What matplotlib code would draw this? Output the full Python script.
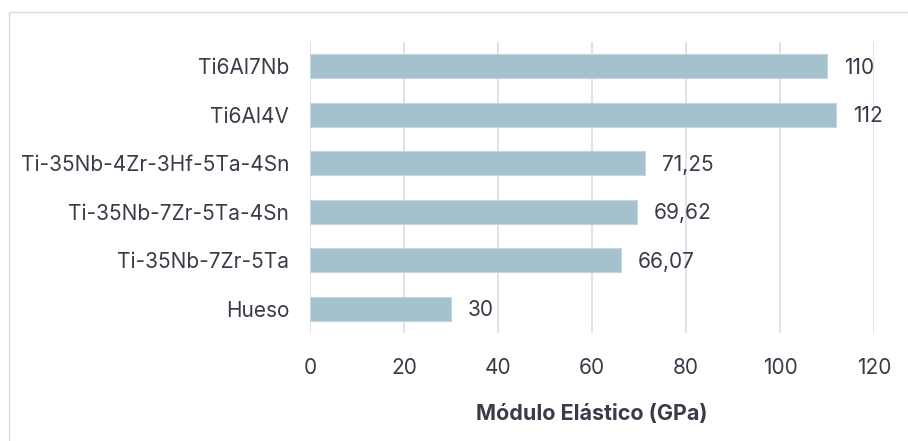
import matplotlib.pyplot as plt
from matplotlib.patches import Rectangle

# elastic modulus per alloy (GPa), top to bottom as drawn
alloys = ["Ti6Al7Nb", "Ti6Al4V", "Ti-35Nb-4Zr-3Hf-5Ta-4Sn",
          "Ti-35Nb-7Zr-5Ta-4Sn", "Ti-35Nb-7Zr-5Ta", "Hueso"]
modulus = [110, 112, 71.25, 69.62, 66.07, 30]
value_labels = ["110", "112", "71,25", "69,62", "66,07", "30"]
x_ticks = [0, 20, 40, 60, 80, 100, 120]

plt.rcParams["font.family"] = ["Inter", "DejaVu Sans"]
text_color = "#3a3a48"
bar_color = "#a6c1ce"
grid_color = "#dcdce5"
fs = 15

fig = plt.figure(figsize=(9.08, 4.41), dpi=100)
ax = fig.add_axes([310 / 908, 108 / 441, 564 / 908, 291 / 441])

# light frame around the chart area
fig.patches.append(Rectangle((9 / 908, -0.05), 1.0, 0.05 + 429 / 441,
                             transform=fig.transFigure, fill=False,
                             edgecolor="#d9d9d9", linewidth=1.0))

ypos = list(range(len(alloys)))
ax.barh(ypos, modulus, height=0.5, color=bar_color,
        edgecolor="#c3d5de", linewidth=0.8, zorder=2)

for y, v, lab in zip(ypos, modulus, value_labels):
    ax.text(v + 3.6, y + 0.03, lab, va="center", ha="left",
            fontsize=fs, color=text_color)

ax.set_xlim(0, 120)
ax.set_ylim(len(alloys) - 0.5, -0.5)
ax.set_xticks(x_ticks)
ax.set_yticks(ypos)
ax.set_yticklabels(alloys)
ax.tick_params(axis="both", length=0, labelsize=fs, colors=text_color)
ax.tick_params(axis="x", pad=18)
ax.tick_params(axis="y", pad=15)
ax.grid(axis="x", color=grid_color, linewidth=1.2, zorder=0)
ax.set_axisbelow(True)
for s in ax.spines.values():
    s.set_visible(False)

ax.set_xlabel("Módulo Elástico (GPa)", fontsize=15.5, fontweight="bold",
              color=text_color, labelpad=19)

fig.savefig("out.png", dpi=100)
